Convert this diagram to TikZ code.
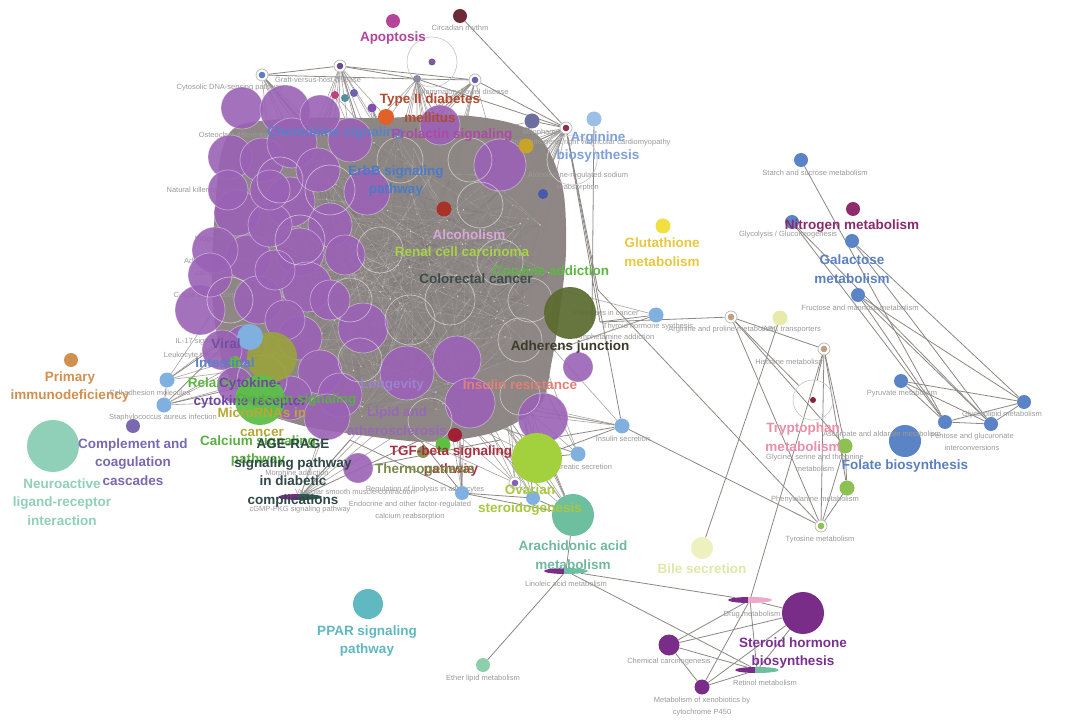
\documentclass[tikz,border=0pt]{standalone}
\usepackage{fontspec}
\setmainfont{Liberation Sans}
\usetikzlibrary{shapes.geometric}
\definecolor{purp}{HTML}{9B62B6}
\definecolor{blobg}{HTML}{8E8785}
\definecolor{edgeg}{HTML}{8C8783}
\definecolor{smg}{HTML}{9A9A9A}
\definecolor{bluen}{HTML}{7FB0E0}
\definecolor{bluem}{HTML}{5B84C6}
\definecolor{dpur}{HTML}{7A2D88}
\definecolor{tealn}{HTML}{6DBF9F}
\definecolor{apopc}{HTML}{B5459B}
\definecolor{circc}{HTML}{6B2A35}
\definecolor{t2dc}{HTML}{B04A30}
\definecolor{argc}{HTML}{7FA0D8}
\definecolor{gluc}{HTML}{E8C840}
\definecolor{nitc}{HTML}{8A2A6A}
\definecolor{galc}{HTML}{5A80C0}
\definecolor{primc}{HTML}{D09050}
\definecolor{neuc}{HTML}{90D0B8}
\definecolor{compc}{HTML}{7A68B0}
\definecolor{agec}{HTML}{304848}
\definecolor{pparc}{HTML}{60B8C0}
\definecolor{arac}{HTML}{70B8A0}
\definecolor{bilec}{HTML}{E0E8A8}
\definecolor{stec}{HTML}{7A3090}
\definecolor{tryc}{HTML}{E890A8}
\definecolor{ovac}{HTML}{A8C840}
\definecolor{tgfc}{HTML}{A83040}
\definecolor{oliv}{HTML}{5B6B2F}
\definecolor{olyel}{HTML}{9BA23E}
\definecolor{gren}{HTML}{5DC04A}
\definecolor{limec}{HTML}{A3D13E}
\definecolor{lgreen}{HTML}{8DC153}
\definecolor{cA}{HTML}{70B040}
\definecolor{cB}{HTML}{5CC040}
\definecolor{cC}{HTML}{8A9050}
\definecolor{cD}{HTML}{A02035}
\definecolor{cE}{HTML}{A83226}
\definecolor{cF}{HTML}{E0622A}
\definecolor{cG}{HTML}{4858B0}
\definecolor{cH}{HTML}{C04080}
\definecolor{cI}{HTML}{5090A0}
\definecolor{cJ}{HTML}{7060B0}
\definecolor{cK}{HTML}{8050B0}
\definecolor{cL}{HTML}{8060C0}
\definecolor{cM}{HTML}{2F5A50}
\definecolor{cN}{HTML}{7A5AA0}
\definecolor{cO}{HTML}{5A80C0}
\definecolor{cP}{HTML}{6A4A90}
\definecolor{cQ}{HTML}{8A8AA0}
\definecolor{cR}{HTML}{6A60B0}
\definecolor{cS}{HTML}{6E6E9E}
\definecolor{cT}{HTML}{8A3050}
\definecolor{cU}{HTML}{9AC0E8}
\definecolor{cV}{HTML}{C8A42A}
\definecolor{cW}{HTML}{F0E040}
\definecolor{cX}{HTML}{8E2D6A}
\definecolor{cY}{HTML}{C0A080}
\definecolor{cZ}{HTML}{E8EAA8}
\definecolor{ca}{HTML}{8A2040}
\definecolor{cb}{HTML}{8CCFAA}
\definecolor{cc}{HTML}{EEF0C0}
\definecolor{cd}{HTML}{F0A8C8}
\definecolor{t1}{HTML}{5A80C8}
\definecolor{t2}{HTML}{B048A8}
\definecolor{t3}{HTML}{4A7AC8}
\definecolor{t4}{HTML}{D8A8D8}
\definecolor{t5}{HTML}{A8D048}
\definecolor{t6}{HTML}{5CB840}
\definecolor{t7}{HTML}{3C4C48}
\definecolor{t8}{HTML}{3C3C2C}
\definecolor{t9}{HTML}{E08078}
\definecolor{t10}{HTML}{A080D0}
\definecolor{t11}{HTML}{7050A0}
\definecolor{t12}{HTML}{7048A0}
\definecolor{t13}{HTML}{58B040}
\definecolor{t14}{HTML}{B8A838}
\definecolor{t15}{HTML}{9868B8}
\definecolor{t16}{HTML}{7A8A48}
\pgfdeclarelayer{bg}
\pgfsetlayers{bg,main}
\tikzset{
 dot/.style 2 args={circle,inner sep=0pt,minimum size=#2,fill=#1},
 rnode/.style={circle,inner sep=0pt,minimum size=12pt,draw=black!28,line width=0.7pt,fill=white,
   path picture={\fill[#1] (path picture bounding box.center) circle (3.3pt);}},
 edge/.style={draw=edgeg,line width=0.8pt},
 fan/.style={draw=edgeg,line width=0.6pt,opacity=0.75},
 hair/.style={draw=black!60,line width=0.35pt,opacity=0.22},
 whair/.style={draw=white,line width=0.3pt,opacity=0.22},
 pc/.style={circle,inner sep=0pt,minimum size=#1,fill=purp,fill opacity=0.9,draw=white,draw opacity=0.4,line width=0.7pt},
 ghost/.style={circle,inner sep=0pt,minimum size=#1,draw=white,draw opacity=0.5,line width=0.7pt},
 ghostg/.style={circle,inner sep=0pt,minimum size=#1,draw=black!20,line width=0.7pt},
 big/.style={font=\bfseries\fontsize{13.5}{18.5}\selectfont,align=center,inner sep=0pt},
 sm/.style={font=\fontsize{7.5}{12}\selectfont,text=smg,align=center,inner sep=0pt},
 pie/.style 2 args={ellipse,inner sep=0pt,minimum width=44pt,minimum height=6pt,
   path picture={\fill[#1] (path picture bounding box.south west) rectangle ([xshift=-2pt]path picture bounding box.north);
                 \fill[#2] ([xshift=-2pt]path picture bounding box.south) rectangle (path picture bounding box.north east);}},
}
\begin{document}
\begin{tikzpicture}[x=1pt,y=-1pt]
\useasboundingbox (0,0) rectangle (1080,722);

% random anchor points inside the hairball
\pgfmathsetseed{4242}
\foreach \i in {1,...,150}{
  \pgfmathsetmacro{\ang}{360*rnd}
  \pgfmathsetmacro{\rr}{sqrt(rnd)}
  \pgfmathsetmacro{\px}{405+150*\rr*cos(\ang)}
  \pgfmathsetmacro{\py}{280+145*\rr*sin(\ang)}
  \coordinate (p\i) at (\px,\py);
}
\coordinate (bR1) at (600,322);
\coordinate (bR2) at (598,290);
\coordinate (bR3) at (592,320);
\coordinate (bL1) at (240,330);
\coordinate (bL2) at (250,385);
\coordinate (bB1) at (500,440);
\coordinate (bB2) at (540,440);
\coordinate (bB3) at (420,440);
\coordinate (bB4) at (350,440);

% ---------- small labels lying under the cluster ----------
\node[sm] (lcyt) at (230,88) {Cytosolic DNA-sensing pathway};
\node[sm] (lgvh) at (318,80) {Graft-versus-host disease};
\node[sm] (libd) at (462,93) {Inflammatory bowel disease};
\node[sm] (lost) at (240,135) {Osteoclast differentiation};
\node[sm] (lnk) at (230,191) {Natural killer cell mediated cytotoxicity};
\node[sm] (lprog) at (265,240) {Progesterone-mediated oocyte maturation};
\node[sm] (ladr) at (222,268) {Adrenergic signaling in\\cardiomyocytes};
\node[sm] (lctl) at (240,296) {C-type lectin receptor signaling pathway};
\node[sm] (lil17) at (215,342) {IL-17 signaling pathway};
\node[sm] (lleu) at (225,356) {Leukocyte transendothelial migration};
\node[sm] (lmito) at (540,133) {Mitophagy};
\node[sm] (larvc) at (590,143) {Arrhythmogenic right ventricular cardiomyopathy};
\node[sm] (lald) at (578,182) {Aldosterone-regulated sodium\\reabsorption};
\node[sm] (lpic) at (606,314) {Pathways in cancer};
\node[sm] (lthy) at (648,327) {Thyroid hormone synthesis};
\node[sm] (lamp) at (615,338) {Amphetamine addiction};
\node[sm] (lmor) at (297,474) {Morphine addiction};
\node[sm] (lvsm) at (355,492) {Vascular smooth muscle contraction};
\node[sm] (llip) at (425,490) {Regulation of lipolysis in adipocytes};
\node[sm] (lgmp) at (300,510) {cGMP-PKG signaling pathway};
\node[sm] (lendo) at (410,511) {Endocrine and other factor-regulated\\calcium reabsorption};
\node[sm] (lins) at (623,439) {Insulin secretion};
\node[sm] (lpan) at (578,467) {Pancreatic secretion};

% ---------- big circles of the cluster ----------
\foreach \x/\y/\d [count=\i] in {242/108/42, 285/110/50, 230/157/44, 262/160/44, 292/143/50, 350/140/44,
  367/192/46, 237/213/46, 290/202/50, 330/225/44, 248/258/46, 300/252/48, 200/310/50, 258/300/48,
  307/287/50, 363/328/50, 245/345/40, 300/338/44, 320/372/44, 290/398/44, 340/395/44, 407/373/54,
  457/360/48, 470/403/50, 543/418/50, 578/367/30, 358/468/30, 500/165/52, 440/125/40, 327/417/46,
  215/250/46, 228/190/40, 270/225/44, 318/170/44, 345/255/40, 222/350/40, 210/275/44, 275/270/40,
  330/300/40, 285/320/40, 320/115/40, 270/190/40, 235/385/36}{
  \node[pc=\d pt] (pc\i) at (\x,\y) {};
}
\foreach \x/\y/\d [count=\i] in {330/190/50, 300/240/50, 380/250/46, 450/300/50, 500/262/46, 350/300/44,
  520/340/44, 430/420/44, 480/205/46, 262/380/50, 400/160/46, 230/300/46, 520/395/40, 410/320/50,
  470/160/44, 530/300/44, 360/360/44, 280/180/46}{
  \node[ghost=\d pt] (gh\i) at (\x,\y) {};
}
\node[circle,inner sep=0,minimum size=52pt,fill=oliv,fill opacity=0.92] (olv) at (570,313) {};
\node[circle,inner sep=0,minimum size=50pt,fill=olyel,fill opacity=0.92] (oly) at (272,357) {};
\node[dot={bluen}{26pt}] (bluebig) at (250,337) {};
\node[circle,inner sep=0,minimum size=50pt,fill=gren,fill opacity=0.95] (grn) at (260,400) {};
\node[circle,inner sep=0,minimum size=50pt,fill=limec] (lim) at (537,458) {};
\node[dot={cA}{12pt}] (gsm) at (235,362) {};
\node[dot={cB}{15pt}] (gsm2) at (443,445) {};
\node[dot={cC}{12pt}] (osm) at (423,452) {};
\node[dot={cD}{14pt}] (rsm) at (455,435) {};
\node[dot={cE}{15pt}] (dred) at (444,209) {};
\node[dot={cF}{16pt}] (t2d) at (386,117) {};
\node[dot={cG}{10pt}] (ald) at (543,194) {};
\node[dot={cH}{8pt}] (s1) at (335,95) {};
\node[dot={cI}{8pt}] (s2) at (345,98) {};
\node[dot={cJ}{8pt}] (s3) at (354,93) {};
\node[dot={cK}{9pt}] (s4) at (372,108) {};
\node[dot={bluen}{14pt}] (blueA) at (462,493) {};
\node[dot={bluen}{14pt}] (blueB) at (533,498) {};
\node[rnode={cL}] (rsm2) at (515,483) {};
\node[pie={dpur}{cM}] (gmp) at (300,497) {};

% ---------- peripheral nodes ----------
\node[dot={apopc}{14pt}] (apop) at (393,21) {};
\node[dot={circc}{14pt}] (circ) at (460,16) {};
\node[ghostg=50pt] (emptyA) at (432,62) {};
\node[dot={cN}{7pt}] (emA) at (432,62) {};
\node[rnode={cO}] (r1) at (262,75) {};
\node[rnode={cP}] (r2) at (340,66) {};
\node[dot={cQ}{8pt}] (r3) at (417,79) {};
\node[rnode={cR}] (r4) at (475,80) {};
\node[dot={cS}{15pt}] (mito) at (532,121) {};
\node[rnode={cT}] (argh) at (566,128) {};
\node[dot={cU}{15pt}] (arg) at (594,119) {};
\node[dot={cV}{15pt}] (gold) at (526,146) {};
\node[ghostg=50pt] (emptyB) at (572,160) {};
\node[dot={cW}{15pt}] (glu) at (663,226) {};
\node[dot={bluem}{14pt}] (starch) at (801,160) {};
\node[dot={cX}{14pt}] (nitro) at (853,209) {};
\node[dot={bluem}{14pt}] (glyc) at (792,222) {};
\node[dot={bluem}{14pt}] (gal) at (852,241) {};
\node[dot={bluem}{14pt}] (fru) at (858,295) {};
\node[dot={bluem}{14pt}] (pyr) at (901,381) {};
\node[dot={bluem}{14pt}] (glyce) at (1024,402) {};
\node[dot={bluem}{14pt}] (asc) at (945,422) {};
\node[dot={bluem}{14pt}] (pent) at (991,424) {};
\node[dot={bluem}{32pt}] (folate) at (905,441) {};
\node[dot={bluen}{15pt}] (blue1) at (656,315) {};
\node[rnode={cY}] (argpro) at (731,317) {};
\node[dot={cZ}{15pt}] (abc) at (780,318) {};
\node[rnode={cY}] (his) at (824,349) {};
\node[ghostg=40pt] (trpE) at (813,400) {};
\node[dot={ca}{6pt}] (trpD) at (813,400) {};
\node[dot={lgreen}{15pt}] (gly) at (845,446) {};
\node[dot={lgreen}{15pt}] (phe) at (847,488) {};
\node[rnode={lgreen}] (tyr) at (821,526) {};
\node[dot={bluen}{15pt}] (ins) at (622,426) {};
\node[dot={bluen}{15pt}] (panc) at (578,454) {};
\node[dot={tealn}{42pt}] (arach) at (573,515) {};
\node[pie={dpur}{tealn}] (lino) at (566,571) {};
\node[dot={cb}{14pt}] (ether) at (483,665) {};
\node[dot={cc}{22pt}] (bile) at (702,548) {};
\node[pie={dpur}{cd}] (drug) at (750,600) {};
\node[dot={dpur}{42pt}] (ster) at (803,613) {};
\node[dot={dpur}{21pt}] (chem) at (669,645) {};
\node[pie={dpur}{tealn}] (ret) at (757,670) {};
\node[dot={dpur}{15pt}] (xeno) at (702,687) {};
\node[dot={pparc}{30pt}] (ppar) at (368,604) {};
\node[dot={primc}{14pt}] (prim) at (71,360) {};
\node[dot={neuc}{52pt}] (neuro) at (53,446) {};
\node[dot={compc}{14pt}] (comp) at (133,426) {};
\node[dot={bluen}{15pt}] (cam1) at (167,380) {};
\node[dot={bluen}{15pt}] (cam2) at (164,405) {};

% ---------- background: hairball and edges ----------
\begin{pgfonlayer}{bg}
\fill[white] (0,0) rectangle (1080,722);
\fill[blobg] plot[smooth cycle] coordinates {(240,125) (300,118) (380,118) (470,116) (535,133) (562,185)
  (566,250) (560,310) (552,360) (540,405) (495,432) (430,442) (360,435) (300,425) (250,405) (222,360)
  (212,290) (215,210) (222,150)};
\foreach \k in {1,...,320}{
  \pgfmathrandominteger{\a}{1}{150}
  \pgfmathrandominteger{\b}{1}{150}
  \draw[hair] (p\a) -- (p\b);
}
\foreach \k in {1,...,160}{
  \pgfmathrandominteger{\a}{1}{150}
  \pgfmathrandominteger{\b}{1}{150}
  \draw[whair] (p\a) -- (p\b);
}
\foreach \k in {1,...,150}{
  \fill[white,opacity=0.6] (p\k) circle (0.9pt);
}
\foreach \n/\c in {r1/10,r2/14,r3/14,r4/12,argh/18,mito/8,gold/12,ald/8,s1/4,s4/6,t2d/6,
   cam1/4,cam2/4,arach/6,lim/6,ins/5,panc/5,blueA/6,blueB/6,rsm2/5,gmp/6,blue1/3}{
  \foreach \k in {1,...,\c}{
    \pgfmathrandominteger{\a}{1}{150}
    \draw[fan] (\n) -- (p\a);
  }
}
% top edges
\draw[edge] (circ) -- (argh);
\draw[edge] (r1) -- (r2);
\draw[edge] (r1) -- (r3);
\draw[edge] (r2) -- (r3);
\draw[edge] (r2) -- (r4);
\draw[edge] (r3) -- (r4);
\draw[edge] (r4) -- (argh);
\draw[edge] (r3) -- (argh);
\draw[edge] (mito) -- (argh);
\draw[edge] (gold) -- (argh);
\draw[edge] (arg) -- (bR3);
\draw[edge] (argh) -- (bR2);
\draw[edge] (argh) -- (bR1);
\draw[edge] (argh) -- (ins);
% right cluster
\draw[edge] (starch) -- (asc);
\draw[edge] (glyc) -- (asc);
\draw[edge] (glyc) -- (pent);
\draw[edge] (gal) -- (glyce);
\draw[edge] (gal) -- (pent);
\draw[edge] (fru) -- (glyce);
\draw[edge] (fru) -- (asc);
\draw[edge] (fru) -- (pent);
\draw[edge] (pyr) -- (glyce);
\draw[edge] (pyr) -- (asc);
\draw[edge] (pyr) -- (pent);
\draw[edge] (asc) -- (pent);
\draw[edge] (pent) -- (glyce);
\draw[edge] (asc) -- (glyce);
% amino acid cluster
\draw[edge] (bR1) -- (argpro);
\draw[edge] (argpro) -- (his);
\draw[edge] (argpro) -- (gly);
\draw[edge] (argpro) -- (tyr);
\draw[edge] (argpro) -- (trpE);
\draw[edge] (abc) -- (bile);
\draw[edge] (his) -- (drug);
\draw[edge] (his) -- (gly);
\draw[edge] (his) -- (phe);
\draw[edge] (his) -- (tyr);
\draw[edge] (his) -- (trpE);
\draw[edge] (gly) -- (phe);
\draw[edge] (phe) -- (tyr);
\draw[edge] (gly) -- (tyr);
\draw[edge] (bR2) -- (tyr);
\draw[edge] (ins) -- (tyr);
\draw[edge] (blue1) -- (bR1);
% lower cluster
\draw[edge] (lino) -- (drug);
\draw[edge] (lino) -- (ret);
\draw[edge] (lino) -- (ether);
\draw[edge] (lino) -- (arach);
\draw[edge] (chem) -- (drug);
\draw[edge] (chem) -- (ster);
\draw[edge] (chem) -- (ret);
\draw[edge] (chem) -- (xeno);
\draw[edge] (xeno) -- (drug);
\draw[edge] (xeno) -- (ret);
\draw[edge] (xeno) -- (ster);
\draw[edge] (ster) -- (drug);
\draw[edge] (ster) -- (ret);
\draw[edge] (drug) -- (ret);
\draw[edge] (arach) -- (bB2);
\draw[edge] (arach) -- (blueB);
\draw[edge] (arach) -- (blueA);
\draw[edge] (blueA) -- (blueB);
\draw[edge] (blueA) -- (bB3);
\draw[edge] (blueA) -- (bB4);
\draw[edge] (rsm2) -- (lim);
\draw[edge] (panc) -- (lim);
\draw[edge] (ins) -- (lim);
\draw[edge] (ins) -- (bB2);
\draw[edge] (pc27) -- (bB1);
\draw[edge] (gmp) -- (bB4);
\draw[edge] (gmp) -- (bB3);
% left
\draw[edge] (cam1) -- (cam2);
\draw[edge] (cam1) -- (bL1);
\draw[edge] (cam2) -- (bL2);
\draw[edge] (cam2) -- (bL1);
\end{pgfonlayer}

% ---------- small labels of peripheral nodes ----------
\node[sm] (lcirc) at (460,29) {Circadian rhythm};
\node[sm] (lstarch) at (815,173) {Starch and sucrose metabolism};
\node[sm] (lglyc) at (788,235) {Glycolysis / Gluconeogenesis};
\node[sm] (lfru) at (860,308) {Fructose and mannose metabolism};
\node[sm] (largp) at (722,330) {Arginine and proline metabolism};
\node[sm] (labc) at (792,330) {ABC transporters};
\node[sm] (lhis) at (790,362) {Histidine metabolism};
\node[sm] (lpyr) at (902,394) {Pyruvate metabolism};
\node[sm] (lglyce) at (1002,415) {Glycerolipid metabolism};
\node[sm] (lasc) at (882,434) {Ascorbate and aldarate metabolism};
\node[sm] (lpent) at (972,442) {Pentose and glucuronate\\interconversions};
\node[sm] (lgly) at (815,463) {Glycine, serine and threonine\\metabolism};
\node[sm] (lphe) at (815,500) {Phenylalanine metabolism};
\node[sm] (ltyr) at (820,540) {Tyrosine metabolism};
\node[sm] (lcam) at (150,393) {Cell adhesion molecules};
\node[sm] (lsta) at (163,418) {Staphylococcus aureus infection};
\node[sm] (llino) at (566,584) {Linoleic acid metabolism};
\node[sm] (lether) at (483,679) {Ether lipid metabolism};
\node[sm] (ldrug) at (752,615) {Drug metabolism};
\node[sm] (lchem) at (669,662) {Chemical carcinogenesis};
\node[sm] (lret) at (765,683) {Retinol metabolism};
\node[sm] (lxeno) at (702,707) {Metabolism of xenobiotics by\\cytochrome P450};

% ---------- big labels ----------
\node[big,text=t1] (Lchem) at (335,133) {Chemokine signaling};
\node[big,text=t2] (Lprl) at (452,135) {Prolactin signaling};
\node[big,text=t3] (Lerb) at (396,181) {ErbB signaling\\pathway};
\node[big,text=t4] (Lalc) at (469,235) {Alcoholism};
\node[big,text=t5] (Lrcc) at (462,252) {Renal cell carcinoma};
\node[big,text=t6] (Lcoc) at (551,271) {Cocaine addiction};
\node[big,text=t7] (Lcrc) at (476,279) {Colorectal cancer};
\node[big,text=t8] (Ladh) at (570,347) {Adherens junction};
\node[big,text=t9] (Linsr) at (520,385) {Insulin resistance};
\node[big,text=t10] (Llong) at (392,385) {Longevity};
\node[big,text=t11] (Lvir) at (226,344) {Viral};
\node[big,text=t1] (Lint) at (225,363) {Intestinal};
\node[big,text=t6] (Lrel) at (212,383) {Relaxin};
\node[big,text=t12] (Lcyt) at (250,393) {Cytokine-\\cytokine receptor};
\node[big,text=t13] (Loxy) at (296,400) {Oxytocin signaling};
\node[big,text=t14] (Lmir) at (262,422) {MicroRNAs in\\cancer};
\node[big,text=t13] (Lcal) at (258,451) {Calcium signaling\\pathway};
\node[big,text=agec] (Lage) at (293,473) {AGE-RAGE\\signaling pathway\\in diabetic\\complications};
\node[big,text=t15] (Llip) at (397,421) {Lipid and\\atherosclerosis};
\node[big,text=tgfc] (Ltgf) at (451,461) {TGF-beta signaling\\pathway};
\node[big,text=t16] (Lthe) at (425,470) {Thermogenesis};
\node[big,text=ovac] (Lova) at (530,500) {Ovarian\\steroidogenesis};
\node[big,text=apopc] (Lapop) at (393,38) {Apoptosis};
\node[big,text=t2dc] (Lt2d) at (430,108) {Type II diabetes\\mellitus};
\node[big,text=argc] (Larg) at (598,147) {Arginine\\biosynthesis};
\node[big,text=gluc] (Lglu) at (662,252) {Glutathione\\metabolism};
\node[big,text=nitc] (Lnit) at (852,226) {Nitrogen metabolism};
\node[big,text=galc] (Lgal) at (852,269) {Galactose\\metabolism};
\node[big,text=primc] (Lprim) at (70,387) {Primary\\immunodeficiency};
\node[big,text=compc] (Lcomp) at (133,462) {Complement and\\coagulation\\cascades};
\node[big,text=neuc] (Lneu) at (62,502) {Neuroactive\\ligand-receptor\\interaction};
\node[big,text=pparc] (Lppar) at (367,641) {PPAR signaling\\pathway};
\node[big,text=arac] (Lara) at (573,555) {Arachidonic acid\\metabolism};
\node[big,text=bilec] (Lbile) at (702,569) {Bile secretion};
\node[big,text=stec] (Lste) at (793,653) {Steroid hormone\\biosynthesis};
\node[big,text=tryc] (Ltry) at (803,437) {Tryptophan\\metabolism};
\node[big,text=galc] (Lfol) at (905,466) {Folate biosynthesis};
\end{tikzpicture}
\end{document}
